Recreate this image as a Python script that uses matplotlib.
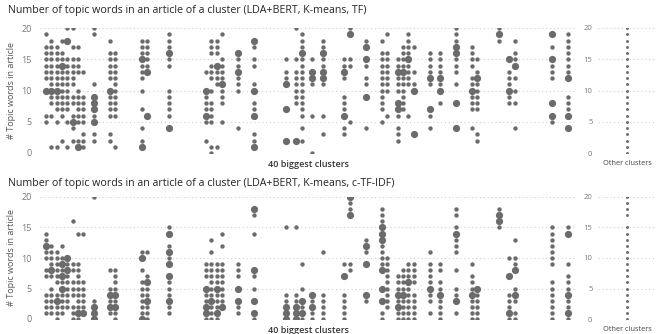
import matplotlib
matplotlib.use("Agg")
import matplotlib.pyplot as plt

# --- Data: each cluster column is a jitter slot; small dots + large (overlapping) dots ---
tf_slots = [0, 1, 2, 3, 4, 5, 6, 7, 9, 12, 13, 18, 19, 23, 30, 31, 32, 33, 36, 39,
            45, 47, 48, 50, 52, 56, 57, 60, 63, 64, 66, 67, 68, 69, 72, 74, 77, 80,
            81, 85, 87, 88, 95, 98]
tf_small = [
    [19, 17, 16, 15, 14, 13, 12, 6, 5],
    [18, 17, 16, 15, 14, 13, 12, 11, 9, 8, 6, 1],
    [17, 16, 15, 14, 13, 12, 11, 9, 8, 7, 5, 1],
    [18, 16, 15, 13, 12, 11, 10, 9, 8, 7, 6, 2],
    [20, 15, 14, 13, 12, 11, 10, 9, 8, 7, 5, 1],
    [20, 17, 15, 14, 13, 12, 11, 9, 8, 6, 4, 2],
    [17, 15, 14, 13, 10, 9, 8, 7, 6, 5, 2],
    [13, 9, 8, 7, 6, 5, 3, 2, 1],
    [20, 19, 11, 6, 3, 2],
    [18, 16, 15, 14, 13, 12, 9, 8, 7, 6, 3, 2],
    [16, 15, 14, 13, 12, 11, 10, 9, 8, 7, 6, 1],
    [18, 17, 16, 14, 13, 12, 10, 7, 4, 2],
    [18, 17, 16, 15, 14],
    [19, 18, 17, 15, 14, 10, 9, 8, 7, 6],
    [13, 9, 8, 7, 5, 2],
    [18, 17, 16, 14, 13, 12, 10, 8, 7, 6, 5, 1, 0],
    [18, 17, 16, 13, 12, 11, 1],
    [19, 15, 14, 13, 12, 10, 9, 8, 5],
    [15, 14, 12, 11, 10, 4],
    [17, 15, 14, 11, 8, 7, 3, 2],
    [15, 13, 12],
    [20, 15, 13, 12, 11, 10, 9, 8],
    [19, 18, 17, 15, 14, 13, 12, 11, 10, 9, 8, 7, 6, 4, 2],
    [15, 11, 6, 0],
    [18, 17, 15, 14, 11, 6, 3],
    [15, 14, 12, 9, 8, 7, 4, 3],
    [20, 15, 14, 5],
    [18, 14, 12, 11, 4],
    [18, 16, 15, 14, 13, 12, 11, 10, 9, 8, 7, 5],
    [19, 16, 15, 14, 13, 12, 11, 10, 6],
    [15, 14, 12, 11, 10, 6, 4, 3, 2],
    [17, 16, 15, 14, 12, 11, 10, 9, 8, 7],
    [19, 18, 17, 16, 14, 13, 12, 11, 6],
    [17, 13, 11],
    [16, 15, 14, 13, 11, 6, 4],
    [16, 15, 14, 13, 11, 8],
    [20, 19, 18, 15, 14, 13, 11],
    [17, 16, 15, 14, 12, 11, 9, 8, 7, 4],
    [15, 13, 11, 10, 9, 8, 7, 3, 2],
    [20, 18],
    [13, 12, 11, 9, 8],
    [18, 16, 15, 12, 10, 8, 4],
    [17, 14, 13, 12, 5],
    [19, 18, 17, 16, 15, 14, 13, 9, 8, 7],
]
tf_big = [
    [10], [10], [10], [14], [18], [5], [1], [], [9, 8, 7, 5], [10], [], [15, 1],
    [13, 6], [16, 4], [10, 6], [], [14], [11], [16, 13], [18, 10, 6, 1], [11, 7, 2],
    [2], [16], [13, 12], [16, 13, 12], [13, 6], [19], [17, 15, 9], [], [], [13, 8, 7],
    [13], [15], [10, 3], [12, 7], [12, 10], [17, 16, 8, 4], [10], [12], [19],
    [15, 10], [14], [19, 15, 8, 6], [12, 6, 4],
]

ctf_slots = tf_slots
ctf_small = [
    [14, 13, 11, 10, 8, 7, 4, 3, 2, 1],
    [12, 11, 10, 9, 7, 5, 4, 3, 2, 1],
    [11, 10, 9, 8, 7, 6, 4, 2, 1, 0],
    [12, 10, 8, 6, 4, 3, 2, 1],
    [9, 7, 6, 5, 4, 3, 2],
    [16, 9, 8, 6, 5, 4, 2, 1, 0],
    [14, 9, 8, 7, 6, 5, 4, 3, 2, 0],
    [14, 6, 5, 4, 3, 2],
    [20, 3],
    [8, 5, 3, 1],
    [8, 7, 6, 5, 3, 1, 0],
    [11, 8, 6, 5, 4, 3, 2, 1],
    [11, 7, 5, 4, 2, 1, 0],
    [15, 12, 10, 6, 5, 4, 2, 1],
    [9, 8, 7, 4, 3, 0],
    [13, 11, 9, 8, 7, 6, 5, 4, 2, 1, 0],
    [9, 8, 7, 6, 4, 3, 2, 0],
    [14, 12, 9, 8, 7, 6, 5, 4, 3],
    [9, 8, 7, 2, 1],
    [17, 14, 7, 5, 0],
    [15, 4, 3],
    [15, 4, 3],
    [9, 5, 2, 0],
    [3, 1, 0],
    [11, 4, 3, 2, 1, 0],
    [9, 4, 3, 2, 1, 0],
    [19, 18, 9, 8],
    [13, 11, 3],
    [18, 17, 16, 12, 11, 10, 9, 1, 0],
    [10, 9, 8, 7, 6, 5, 4, 3, 2],
    [7, 6, 5, 3, 1, 0],
    [8, 7, 6, 5, 3, 2, 1, 0],
    [9, 8, 7, 5, 4, 3, 2, 1, 0],
    [9, 8, 7, 6, 4, 3, 2, 1, 0],
    [11, 9, 8, 7, 6, 4, 3, 1],
    [9, 8, 6, 5, 3, 2, 1, 0],
    [18, 17, 15, 13, 12, 11, 8, 5, 4, 1],
    [9, 7, 6, 5, 3, 2, 1, 0],
    [4, 3, 2, 1, 0],
    [18, 15],
    [10, 4, 3, 2, 0],
    [13, 10, 9, 5, 3, 1, 0],
    [15, 14, 13, 12, 11, 10, 9, 6, 5, 4, 3, 2, 1, 0],
    [15, 9, 7, 6, 5, 3, 2, 0],
]
ctf_big = [
    [12], [8], [3], [9, 7, 5], [10, 8], [], [1], [1], [2, 1, 0], [4, 2], [4, 2],
    [10, 0], [6, 3], [14, 11, 9, 7, 3], [5, 2, 1], [3], [5, 1], [2], [5, 3],
    [18, 8, 3, 1], [2, 1, 0], [2, 1, 0], [3, 1], [4, 2], [], [7], [20, 17],
    [12, 9, 4], [15, 14, 13, 8, 5, 3], [], [4, 2], [4], [6], [], [5], [4],
    [14, 3], [4], [5], [17, 16], [7, 1], [8, 4], [], [14, 4, 1],
]

other_tf = list(range(0, 21))
other_ctf = list(range(0, 16)) + [17, 18, 19, 20]

titles = ["Number of topic words in an article of a cluster (LDA+BERT, K-means, TF)",
          "Number of topic words in an article of a cluster (LDA+BERT, K-means, c-TF-IDF)"]

DOT = "#6b6b6b"
TICK = "#7a7a7a"
GRID = "#cfcfcf"
plt.rcParams["font.family"] = ["Open Sans", "DejaVu Sans"]


def style(ax):
    ax.set_ylim(0, 20)
    ax.set_yticks([0, 5, 10, 15, 20])
    ax.set_xticks([])
    for s in ax.spines.values():
        s.set_visible(False)
    ax.yaxis.grid(True, linestyle=(0, (1, 2.5)), color=GRID, linewidth=0.8)
    ax.set_axisbelow(True)
    ax.tick_params(axis="y", length=0, labelsize=6.5, labelcolor=TICK, pad=6)


def draw_main(ax, slots, small, big):
    for x, ys, bs in zip(slots, small, big):
        ax.scatter([x] * len(ys), ys, s=10, color=DOT, linewidths=0, zorder=3)
        if bs:
            ax.scatter([x] * len(bs), bs, s=27, color=DOT, linewidths=0, zorder=3)
    ax.set_xlim(-1.15, 99.7)
    style(ax)
    ax.set_xlabel("40 biggest clusters", fontsize=6.5, color="#333333", labelpad=5,
                  fontweight="semibold")
    ax.set_ylabel("# Topic words in article", fontsize=6.5, color="#555555", labelpad=4)


def draw_other(ax, ys):
    ax.scatter([0] * len(ys), ys, s=4.5, color=DOT, linewidths=0, zorder=3)
    ax.set_xlim(-1, 1.05)
    style(ax)
    ax.tick_params(axis="y", labelsize=5.5, pad=4)
    ax.set_xlabel("Other clusters", fontsize=5.3, color="#444444", labelpad=5)


fig = plt.figure(figsize=(6.59, 3.34), dpi=100)

# px -> figure fractions
W, H = 659, 334
rows = [(28, 153, 10), (197, 319, 183)]
data = [(tf_slots, tf_small, tf_big, other_tf), (ctf_slots, ctf_small, ctf_big, other_ctf)]

for (top, bot, ty), (sl, sm, bg, oth), title in zip(rows, data, titles):
    ax = fig.add_axes([40 / W, 1 - bot / H, 537 / W, (bot - top) / H])
    draw_main(ax, sl, sm, bg)
    ax2 = fig.add_axes([598 / W, 1 - bot / H, 59 / W, (bot - top) / H])
    draw_other(ax2, oth)
    fig.text(8 / W, 1 - ty / H, title, fontsize=7.7, color="#252423", va="center",
             ha="left", fontweight="medium")

fig.savefig("out.png", dpi=100)
